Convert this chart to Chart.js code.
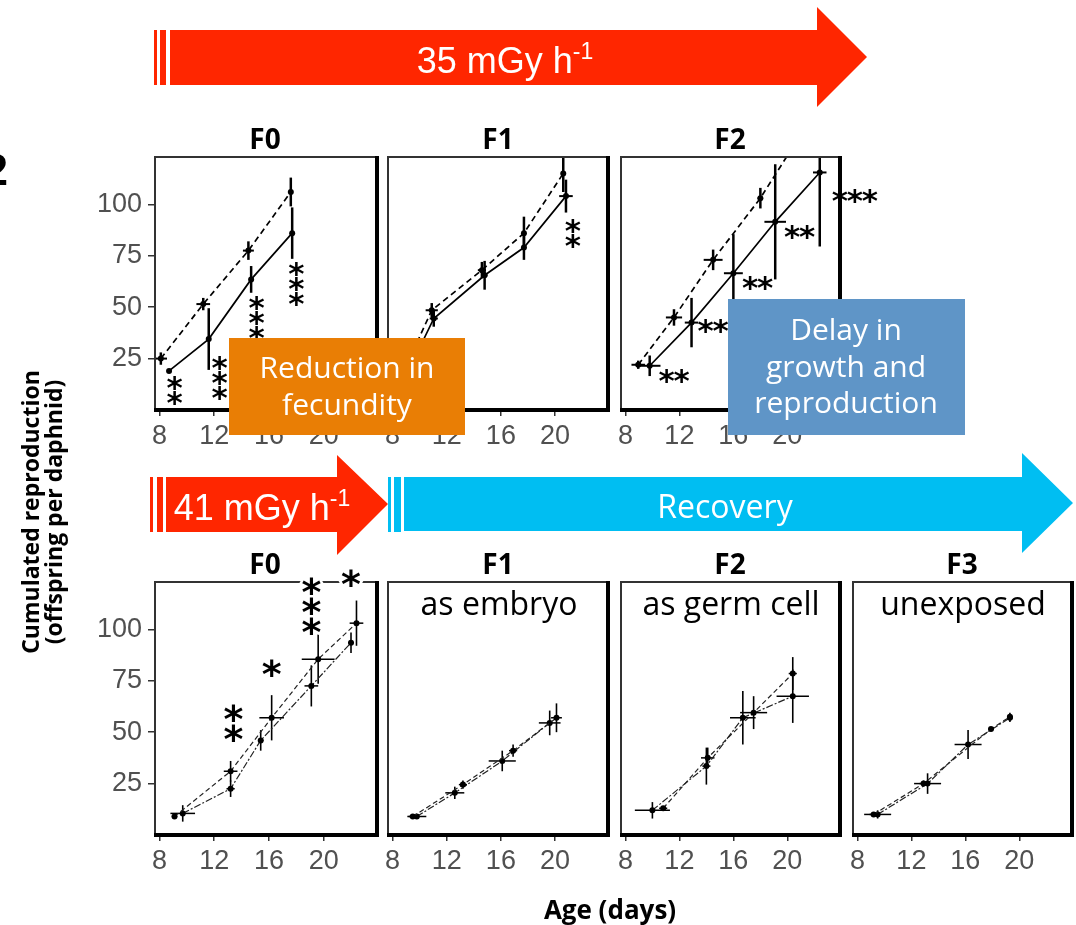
<!DOCTYPE html>
<html>
<head>
<meta charset="utf-8">
<title>Cumulated reproduction</title>
<style>
  body { margin: 0; width: 1076px; height: 925px; position: relative; background: #fff; overflow: hidden; }
  canvas { position: absolute; z-index: 2; }
  svg.deco { position: absolute; left: 0; top: 0; z-index: 5; }
</style>
</head>
<body>

<svg class="deco" width="1076" height="925">
  <!-- exposure arrows -->
  <g fill="#FF2600">
    <rect x="154" y="30" width="3" height="55"/>
    <rect x="160" y="30" width="6" height="55"/>
    <polygon points="170,30 817,30 817,7 867,57 817,107 817,85 170,85"/>
    <rect x="150" y="477" width="3" height="55"/>
    <rect x="157" y="477" width="6" height="55"/>
    <polygon points="166,477 337,477 337,455 388,504 337,555 337,532 166,532"/>
  </g>
  <g fill="#00BEF2">
    <rect x="388" y="477" width="3" height="55"/>
    <rect x="394" y="477" width="7" height="55"/>
    <polygon points="404,477 1022,477 1022,453 1073,503 1022,553 1022,531 404,531"/>
  </g>
  <g fill="#fff" font-family="Arial, 'Liberation Sans'" font-size="36">
    <text x="505" y="73" text-anchor="middle">35 mGy h<tspan font-size="23" dy="-14">-1</tspan></text>
    <text x="262" y="520" text-anchor="middle">41 mGy h<tspan font-size="23" dy="-14">-1</tspan></text>
  </g>
  <text x="725" y="518" text-anchor="middle" fill="#fff" font-family="'Open Sans'" font-size="32">Recovery</text>

  <!-- highlight boxes -->
  <rect x="229" y="338" width="236" height="97" fill="#E97E05"/>
  <g fill="#fff" font-family="'Open Sans'" font-size="30" text-anchor="middle">
    <text x="347" y="378">Reduction in</text>
    <text x="347" y="415">fecundity</text>
  </g>
  <rect x="728" y="299" width="237" height="136" fill="#5F95C7"/>
  <g fill="#fff" font-family="'Open Sans'" font-size="30" text-anchor="middle">
    <text x="846" y="340">Delay in</text>
    <text x="846" y="377">growth and</text>
    <text x="846" y="413">reproduction</text>
  </g>

  <!-- panel titles -->
  <g font-family="'Open Sans'" font-weight="bold" font-size="28" text-anchor="middle">
    <text x="265" y="149">F0</text>
    <text x="498" y="149">F1</text>
    <text x="730" y="149">F2</text>
    <text x="265" y="574">F0</text>
    <text x="498" y="574">F1</text>
    <text x="730" y="574">F2</text>
    <text x="962" y="574">F3</text>
  </g>
  <g font-family="'Open Sans'" font-size="32" text-anchor="middle">
    <text x="499" y="615">as embryo</text>
    <text x="731" y="615">as germ cell</text>
    <text x="963" y="615">unexposed</text>
  </g>

  <!-- axis titles -->
  <g font-family="'Open Sans'" font-weight="bold" font-size="23" text-anchor="middle">
    <text transform="translate(39,512) rotate(-90)">Cumulated reproduction</text>
    <text transform="translate(62,512) rotate(-90)">(offspring per daphnid)</text>
  </g>
  <text x="610" y="919" text-anchor="middle" font-family="'Open Sans'" font-weight="bold" font-size="26">Age (days)</text>
  <text x="-17" y="185" font-family="Arial, 'Liberation Sans'" font-weight="bold" font-size="45">2</text>
</svg>

<script src="https://cdn.jsdelivr.net/npm/chart.js"></script>
<script>
const ageTicks = [8, 12, 16, 20];
const offspringTicks = [25, 50, 75, 100];

// each point: [age, offspring, age SD, offspring SD]
// 35 mGy/h, top row (control = dashed, irradiated = solid)
const ctrl35F0 = [[8.1, 25, 0.45, 3], [11.2, 51.5, 0.5, 3], [14.5, 77.5, 0.4, 4.5], [17.6, 106, 0.1, 7]];
const irr35F0 = [[8.7, 19, 0.1, 1], [11.6, 34.5, 0.1, 15], [14.7, 63.5, 0.1, 6.5], [17.7, 86, 0.1, 12.5]];
const ctrl35F1 = [[9.2, 24, 0.3, 2], [10.9, 48.5, 0.45, 3.5], [14.6, 68, 0.3, 4], [17.7, 86, 0.1, 8], [20.6, 115, 0.1, 9]];
const irr35F1 = [[9.4, 22, 0.3, 2], [11.05, 44.5, 0.3, 4], [14.8, 65.5, 0.2, 7], [17.7, 79, 0.1, 6], [20.8, 104, 0.5, 8]];
const ctrl35F2 = [[8.95, 22, 0.5, 2], [11.6, 45, 0.6, 4], [14.5, 73, 0.7, 5], [18.0, 103, 0.2, 5], [21.0, 134, 0.3, 5]];
const irr35F2 = [[9.8, 21.5, 0.8, 5], [12.9, 42.5, 0.5, 12], [16.0, 66.5, 0.7, 19], [19.1, 91.5, 0.8, 28], [22.4, 115.5, 0.5, 36]];

// 41 mGy/h then recovery, bottom row
const ctrl41F0 = [[9.1, 9, 0.2, 1], [13.2, 31, 0.5, 5], [16.2, 57, 0.9, 11], [19.6, 85.5, 1.2, 12], [22.4, 103, 0.5, 11]];
const irr41F0 = [[9.7, 10.5, 0.9, 4], [13.2, 22.5, 0.3, 4], [15.4, 46, 0.2, 5], [19.1, 72.5, 0.5, 10], [22.0, 93.5, 0.2, 5]];
const ctrl41F1 = [[9.5, 9, 0.3, 1], [13.2, 24.5, 0.3, 2], [16.9, 41, 0.3, 3], [20.1, 57, 0.4, 7]];
const irr41F1 = [[9.8, 9, 0.7, 1], [12.6, 20.5, 0.7, 3], [16.1, 36, 1.0, 5], [19.6, 54.5, 0.8, 6]];
const ctrl41F2 = [[10.8, 13, 0.3, 1], [14.1, 37.5, 0.5, 5], [17.5, 59.5, 1.0, 8], [20.4, 78.5, 0.3, 8]];
const irr41F2 = [[10.0, 12, 1.3, 4], [14.0, 33.5, 0.3, 9], [16.7, 57, 0.95, 13], [20.4, 67.5, 1.2, 13]];
const ctrl41F3 = [[9.2, 10, 0.3, 1], [12.9, 25, 0.3, 1.5], [17.9, 51.5, 0.2, 1], [19.3, 57.5, 0.2, 2]];
const irr41F3 = [[9.5, 10, 1.0, 2], [13.2, 25, 1.0, 5], [16.2, 44, 1.0, 7], [19.3, 57, 0.2, 2]];

const YW = 90, PT = 40, PR = 60, XH = 50;

// draws SD bars, the panel frame and the significance stars
const deco = {
  id: 'deco',
  beforeDatasetsDraw(chart, args, o) {
    const ctx = chart.ctx, a = chart.chartArea;
    const xs = chart.scales.x, ys = chart.scales.y;
    ctx.save();
    ctx.beginPath();
    ctx.rect(a.left, a.top, a.right - a.left, a.bottom - a.top);
    ctx.clip();
    ctx.strokeStyle = '#000';
    chart.data.datasets.forEach(ds => {
      ds.errs.forEach(([age, n, ea, en]) => {
        const px = xs.getPixelForValue(age), py = ys.getPixelForValue(n);
        ctx.lineWidth = o.vw;
        ctx.beginPath();
        ctx.moveTo(px, ys.getPixelForValue(n - en));
        ctx.lineTo(px, ys.getPixelForValue(n + en));
        ctx.stroke();
        ctx.lineWidth = o.hw;
        ctx.beginPath();
        ctx.moveTo(xs.getPixelForValue(age - ea), py);
        ctx.lineTo(xs.getPixelForValue(age + ea), py);
        ctx.stroke();
      });
    });
    ctx.restore();
  },
  afterDraw(chart, args, o) {
    const ctx = chart.ctx, a = chart.chartArea;
    ctx.save();
    ctx.strokeStyle = '#333';
    ctx.lineWidth = 2;
    ctx.beginPath();
    ctx.moveTo(a.left + 1, a.bottom);
    ctx.lineTo(a.left + 1, a.top + 1);
    ctx.lineTo(a.right, a.top + 1);
    ctx.stroke();
    ctx.fillStyle = '#000';
    ctx.fillRect(a.right - 2, a.top, 4, a.bottom - a.top + 2);
    ctx.fillRect(a.left, a.bottom - 2, a.right - a.left + 2, 4);

    ctx.font = 'bold ' + o.starSize + 'px "DejaVu Sans"';
    const m = ctx.measureText('*');
    const shift = (m.actualBoundingBoxAscent - m.actualBoundingBoxDescent) / 2;
    ctx.textAlign = 'center';
    ctx.textBaseline = 'alphabetic';
    (o.stars || []).forEach(s => {
      const cx = chart.scales.x.getPixelForValue(s.x);
      const cy = chart.scales.y.getPixelForValue(s.y);
      for (let i = 0; i < s.n; i++) {
        let x = cx, y = cy;
        if (s.dir === 'v') y = cy + i * o.starGap;
        else x = cx + (i - (s.n - 1) / 2) * o.starGap;
        if (o.halo) {
          ctx.strokeStyle = '#fff';
          ctx.lineWidth = 5;
          ctx.strokeText('*', x, y + shift);
        }
        ctx.fillStyle = '#000';
        ctx.fillText('*', x, y + shift);
      }
    });
    ctx.restore();
  }
};

function makePanel(p) {
  const c = document.createElement('canvas');
  c.width = YW + p.w + PR;
  c.height = PT + p.h + XH;
  c.style.left = (p.x - YW) + 'px';
  c.style.top = (p.y - PT) + 'px';
  document.body.appendChild(c);

  const top = p.row === 'top';
  const datasets = p.sets.map((pts, i) => ({
    data: pts.map(q => ({ x: q[0], y: q[1] })),
    errs: pts,
    showLine: true,
    borderColor: top ? '#000' : '#222',
    borderWidth: top ? 1.7 : 1.2,
    borderDash: i === 0 ? (top ? [6, 4] : [5, 3]) : (top ? [] : [7, 2, 2, 2]),
    pointRadius: 3,
    pointBackgroundColor: '#000',
    pointBorderWidth: 0,
    tension: 0
  }));

  new Chart(c, {
    type: 'scatter',
    data: { datasets: datasets },
    options: {
      responsive: false,
      animation: false,
      devicePixelRatio: 1,
      events: [],
      layout: { padding: { top: PT, right: PR, left: 0, bottom: 0 } },
      plugins: {
        legend: { display: false },
        tooltip: { enabled: false },
        deco: {
          stars: p.stars,
          starSize: top ? 31 : 38,
          starGap: top ? 15 : 20,
          halo: !top,
          vw: top ? 2.5 : 1.6,
          hw: top ? 2 : 1.5
        }
      },
      scales: {
        x: {
          type: 'linear', min: 7.6, max: 23.9,
          afterFit: s => { s.height = XH; },
          afterBuildTicks: s => { s.ticks = ageTicks.map(v => ({ value: v })); },
          grid: { drawOnChartArea: false, drawTicks: true, tickLength: 6, color: '#333', lineWidth: 1.5 },
          border: { display: false },
          ticks: { color: '#505050', font: { size: 27, family: 'Arial' }, padding: 4, maxRotation: 0, autoSkip: false }
        },
        y: {
          type: 'linear', min: 0, max: 123.5,
          afterFit: s => { s.width = YW; },
          afterBuildTicks: s => { s.ticks = offspringTicks.map(v => ({ value: v })); },
          grid: { drawOnChartArea: false, drawTicks: p.yLabels, tickLength: 6, color: '#333', lineWidth: 1.5 },
          border: { display: false },
          ticks: { display: p.yLabels, color: '#505050', font: { size: 27, family: 'Arial' }, padding: 6 }
        }
      }
    },
    plugins: [deco]
  });
}

const panels = [
  { row: 'top', x: 154, y: 156, w: 223, h: 254, yLabels: true, sets: [ctrl35F0, irr35F0],
    stars: [{ x: 9.1, y: 13, n: 2, dir: 'v' }, { x: 12.4, y: 22.4, n: 3, dir: 'v' },
            { x: 15.1, y: 52, n: 3, dir: 'v' }, { x: 18.0, y: 68.5, n: 3, dir: 'v' }] },
  { row: 'top', x: 387, y: 156, w: 221, h: 254, yLabels: false, sets: [ctrl35F1, irr35F1],
    stars: [{ x: 21.3, y: 89.4, n: 2, dir: 'v' }] },
  { row: 'top', x: 620, y: 156, w: 220, h: 254, yLabels: false, sets: [ctrl35F2, irr35F2],
    stars: [{ x: 11.6, y: 16.5, n: 2, dir: 'h' }, { x: 14.5, y: 40.8, n: 2, dir: 'h' },
            { x: 17.8, y: 61.7, n: 2, dir: 'h' }, { x: 20.9, y: 86.5, n: 2, dir: 'h' },
            { x: 25.0, y: 104, n: 3, dir: 'h' }] },
  { row: 'bottom', x: 154, y: 581, w: 223, h: 254, yLabels: true, sets: [ctrl41F0, irr41F0],
    stars: [{ x: 13.4, y: 59.3, n: 2, dir: 'v' }, { x: 16.2, y: 81.2, n: 1, dir: 'v' },
            { x: 19.1, y: 121, n: 3, dir: 'v' }, { x: 22.0, y: 124.9, n: 1, dir: 'v' }] },
  { row: 'bottom', x: 387, y: 581, w: 221, h: 254, yLabels: false, sets: [ctrl41F1, irr41F1], stars: [] },
  { row: 'bottom', x: 620, y: 581, w: 220, h: 254, yLabels: false, sets: [ctrl41F2, irr41F2], stars: [] },
  { row: 'bottom', x: 852, y: 581, w: 220, h: 254, yLabels: false, sets: [ctrl41F3, irr41F3], stars: [] }
];

panels.forEach(makePanel);
</script>
</body>
</html>
